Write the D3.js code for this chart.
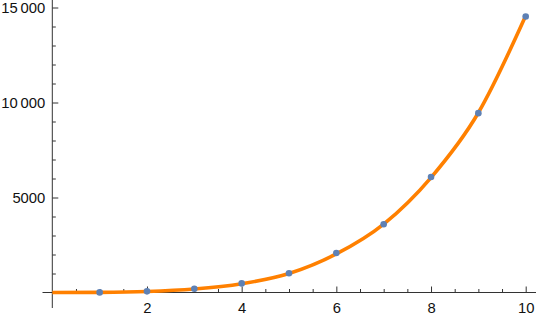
<!DOCTYPE html>
<html>
<head>
<meta charset="utf-8">
<script src="https://cdn.jsdelivr.net/npm/d3@7"></script>
<style>
  body { margin: 0; background: #fff; }
  text { font-family: "Liberation Sans", Arial, sans-serif; font-size: 14.8px; fill: #111; }
</style>
</head>
<body>
<div id="graph"></div>
<script>
// data points (x = 1..10)
const pointX = [1, 2, 3, 4, 5, 6, 7, 8, 9, 10];
const pointY = [5, 60, 200, 480, 1010, 2080, 3590, 6080, 9440, 14530];

// fitted curve
const curveX = [0, 1, 2, 3, 4, 5, 6, 7, 8, 9, 10];
const curveY = [0, 8, 50, 180, 460, 1000, 2030, 3600, 6050, 9460, 14560];

const xMajor = [2, 4, 6, 8, 10];
const yMajor = [5000, 10000, 15000];

const width = 536, height = 318;

const xScale = d3.scaleLinear().domain([0, 10]).range([52.3, 525.7]);
const yScale = d3.scaleLinear().domain([0, 15000]).range([292.5, 7.5]);

const svg = d3.select('div#graph')
    .append('svg')
        .attr('width', width)
        .attr('height', height);

const fmt = v => v >= 10000 ? d3.format('d')(v).replace(/(\d+)(\d{3})$/, '$1\u2009$2') : d3.format('d')(v);

// x axis
const xAxis = svg.append('g')
        .attr('transform', `translate(0,${yScale(0)})`);
xAxis.call(d3.axisBottom(xScale).tickValues(d3.range(0.5, 10.01, 0.5).filter(v => v % 2 !== 0))
        .tickSize(-3.5).tickFormat(''));
xAxis.call(g => g.select('.domain').remove());
const xAxisMaj = svg.append('g')
        .attr('transform', `translate(0,${yScale(0)})`)
    .call(d3.axisBottom(xScale).tickValues(xMajor).tickSize(-6).tickPadding(10).tickFormat(d3.format('d')));
xAxisMaj.select('.domain').remove();

// y axis
const yAxis = svg.append('g')
        .attr('transform', `translate(${xScale(0)},0)`)
    .call(d3.axisLeft(yScale).tickValues(d3.range(1000, 15001, 1000).filter(v => v % 5000 !== 0))
        .tickSize(-3.5).tickFormat(''));
yAxis.select('.domain').remove();
const yAxisMaj = svg.append('g')
        .attr('transform', `translate(${xScale(0)},0)`)
    .call(d3.axisLeft(yScale).tickValues(yMajor).tickSize(-6).tickPadding(7).tickFormat(fmt));
yAxisMaj.select('.domain').remove();

svg.selectAll('.tick line').attr('stroke', '#333');
svg.selectAll('.tick text').attr('fill', '#111').style('font-size', '14.8px')
    .style('font-family', '"Liberation Sans", Arial, sans-serif');

// axis lines
svg.append('line')
    .attr('x1', 42.5).attr('x2', width)
    .attr('y1', yScale(0)).attr('y2', yScale(0))
    .attr('stroke', '#333');
svg.append('line')
    .attr('x1', xScale(0)).attr('x2', xScale(0))
    .attr('y1', 0).attr('y2', 308)
    .attr('stroke', '#333');

// fitted curve
const line = d3.line()
    .x((d, i) => xScale(curveX[i]))
    .y(d => yScale(d))
    .curve(d3.curveMonotoneX);

svg.append('path')
    .datum(curveY)
    .attr('d', line)
    .attr('fill', 'none')
    .attr('stroke', '#ff8000')
    .attr('stroke-width', 3.6);

// points
svg.append('g').selectAll('circle')
    .data(pointY).enter()
    .append('circle')
        .attr('cx', (d, i) => xScale(pointX[i]))
        .attr('cy', d => yScale(d))
        .attr('r', 3.3)
        .attr('fill', '#5e81b5');
</script>
</body>
</html>
